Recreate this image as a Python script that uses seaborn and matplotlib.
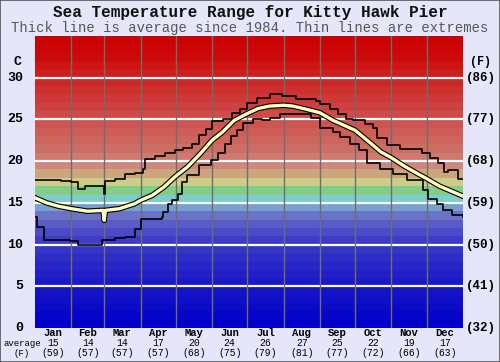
import numpy as np
import pandas as pd
import matplotlib
matplotlib.use("Agg")
import matplotlib.pyplot as plt
import seaborn as sns
from matplotlib.patches import Rectangle

# ---------------- data ----------------
months = ["Jan", "Feb", "Mar", "Apr", "May", "Jun", "Jul", "Aug", "Sep", "Oct", "Nov", "Dec"]
month_days = [31, 28, 31, 30, 31, 30, 31, 31, 30, 31, 30, 31]
avg_c = ["15", "14", "14", "17", "20", "24", "26", "27", "25", "22", "19", "17"]
avg_f = ["(59)", "(57)", "(57)", "(57)", "(68)", "(75)", "(79)", "(81)", "(77)", "(72)", "(66)", "(63)"]
c_ticks = [0, 5, 10, 15, 20, 25, 30]
f_labels = ["(32)", "(41)", "(50)", "(59)", "(68)", "(77)", "(86)"]

mean_day = [0, 10, 20, 31, 45, 58, 59, 60, 72, 85, 90, 100, 110, 120, 130, 141, 151, 160, 170,
            181, 190, 200, 212, 220, 232, 243, 254, 265, 273, 285, 295, 304, 315, 325, 334, 345, 355, 365]
mean_t = [15.6, 15.0, 14.6, 14.3, 14.0, 14.1, 12.9, 14.1, 14.3, 14.9, 15.3, 15.9, 16.9, 18.2, 19.3, 20.9,
          22.5, 23.5, 24.9, 25.7, 26.3, 26.6, 26.7, 26.6, 26.2, 25.8, 24.9, 24.2, 23.7, 22.3, 21.1, 20.4,
          19.4, 18.6, 17.9, 17.0, 16.4, 15.8]

max_day = [0, 22, 31, 37, 43, 59, 60, 68, 77, 85, 92, 94, 102, 111, 119, 126, 134, 140, 146, 151, 160,
           168, 175, 181, 189, 200, 211, 223, 240, 243, 252, 258, 265, 271, 281, 288, 292, 300, 311, 330,
           337, 344, 349, 352, 361, 365]
max_t = [17.7, 17.6, 17.5, 16.7, 17.0, 16.1, 17.6, 17.9, 18.5, 18.6, 19.1, 20.2, 20.6, 21.0, 21.3, 21.6,
         22.0, 23.1, 23.9, 24.8, 25.1, 25.8, 26.3, 27.0, 27.6, 28.1, 27.8, 27.5, 27.2, 26.9, 26.2, 25.6,
         25.1, 24.9, 24.5, 24.0, 22.8, 21.9, 21.5, 21.0, 20.4, 19.8, 18.7, 18.9, 17.9, 17.9]

min_day = [0, 2, 8, 30, 37, 57, 68, 77, 85, 90, 108, 109, 113, 117, 122, 125, 130, 140, 150, 156, 162,
           167, 172, 177, 186, 194, 200, 209, 220, 235, 243, 254, 260, 269, 276, 283, 294, 305, 317, 331,
           335, 343, 348, 356, 365]
min_t = [13.3, 12.1, 10.5, 10.4, 9.9, 10.5, 10.8, 10.9, 11.9, 13.1, 13.3, 13.9, 14.9, 15.3, 16.1, 17.5,
         18.3, 19.5, 20.1, 21.0, 22.0, 23.0, 23.7, 24.6, 25.1, 24.9, 25.2, 25.7, 25.7, 25.2, 24.0, 23.5,
         22.9, 22.1, 21.3, 19.8, 19.1, 18.5, 17.7, 16.6, 15.5, 14.9, 14.1, 13.5, 13.3]

# ---------------- figure ----------------
W, H = 500, 362
bg = "#e6e6fa"
fig = plt.figure(figsize=(W / 100, H / 100), dpi=100, facecolor=bg)

def fx(x):
    return x / W

def fy(y):
    return 1 - y / H

L, R, T, B = 35, 463, 36, 328
ax = fig.add_axes([fx(L), fy(B), (R - L) / W, (B - T) / H])
ax.set_xlim(0, 365)
ax.set_ylim(0, 35)

# colour bands (1 degree each)
key_lv = [0, 5, 10, 12, 13, 14, 15, 16, 17, 18, 19, 20, 21, 25, 30, 32, 35]
key_col = [(0, 0, 200), (25, 25, 198), (60, 60, 200), (90, 90, 200), (105, 115, 200), (118, 160, 205),
           (125, 205, 205), (130, 205, 135), (205, 205, 135), (205, 165, 125), (205, 135, 125),
           (205, 122, 112), (205, 110, 100), (205, 75, 72), (205, 30, 30), (204, 8, 8), (204, 0, 0)]
key_arr = np.array(key_col, dtype=float)
for lv in range(35):
    c = [np.interp(lv, key_lv, key_arr[:, k]) / 255 for k in range(3)]
    ax.axhspan(lv, lv + 1, color=c, lw=0, zorder=0)

for t in c_ticks[1:]:
    ax.axhline(t, color="white", lw=1.6, zorder=1)
edges = np.cumsum(month_days)[:-1]
for e in edges:
    ax.axvline(e, color="#6e6e6e", lw=1.0, zorder=1)

df_max = pd.DataFrame({"day": max_day, "t": max_t})
df_min = pd.DataFrame({"day": min_day, "t": min_t})
df_mean = pd.DataFrame({"day": mean_day, "t": mean_t})
sns.lineplot(data=df_max, x="day", y="t", ax=ax, color="black", lw=1.2, drawstyle="steps-post",
             estimator=None, sort=False, zorder=3)
sns.lineplot(data=df_min, x="day", y="t", ax=ax, color="black", lw=1.2, drawstyle="steps-post",
             estimator=None, sort=False, zorder=3)
sns.lineplot(data=df_mean, x="day", y="t", ax=ax, color="black", lw=4.0,
             estimator=None, sort=False, zorder=4)
sns.lineplot(data=df_mean, x="day", y="t", ax=ax, color="#ffffc0", lw=2.4,
             estimator=None, sort=False, zorder=5)

ax.set_xticks([])
ax.set_yticks([])
ax.set_xlabel("")
ax.set_ylabel("")
for s in ax.spines.values():
    s.set_visible(False)

mono = "Liberation Mono"
# titles
fig.text(0.5, fy(13), "Sea Temperature Range for Kitty Hawk Pier", ha="center", va="center",
         family=mono, fontweight="bold", fontsize=11.5, color="#111111")
fig.text(0.5, fy(28), "Thick line is average since 1984. Thin lines are extremes", ha="center",
         va="center", family=mono, fontsize=10, color="#555555")

# left / right axis labels
def ypix(t):
    return B - (B - T) * t / 35.0

fig.text(fx(18), fy(62), "C", ha="center", va="center", family=mono, fontweight="bold", fontsize=9.5)
fig.text(fx(481), fy(62), "(F)", ha="center", va="center", family=mono, fontweight="bold", fontsize=8.5)
for t, fl in zip(c_ticks, f_labels):
    fig.text(fx(23), fy(ypix(t)), str(t), ha="right", va="center", family=mono,
             fontweight="bold", fontsize=9.5)
    fig.text(fx(466), fy(ypix(t)), fl, ha="left", va="center", family=mono,
             fontweight="bold", fontsize=9)

# bottom labels
starts = np.concatenate([[0], edges])
for i, m in enumerate(months):
    mid = starts[i] + month_days[i] / 2
    xp = L + (R - L) * mid / 365.0
    fig.text(fx(xp), fy(333.5), m, ha="center", va="center", family=mono, fontweight="bold", fontsize=7.6)
    fig.text(fx(xp), fy(343.5), avg_c[i], ha="center", va="center", family=mono, fontsize=7)
    fig.text(fx(xp), fy(353), avg_f[i], ha="center", va="center", family=mono, fontsize=7)
fig.text(fx(22), fy(343.5), "average", ha="center", va="center", family=mono, fontsize=6.5)
fig.text(fx(22), fy(353), "(F)", ha="center", va="center", family=mono, fontsize=6.5)

fig.patches.append(Rectangle((0, 0), 1, 1, transform=fig.transFigure, fill=False,
                             edgecolor="#555555", lw=1.2))

fig.savefig("out.png", dpi=100, facecolor=bg)
